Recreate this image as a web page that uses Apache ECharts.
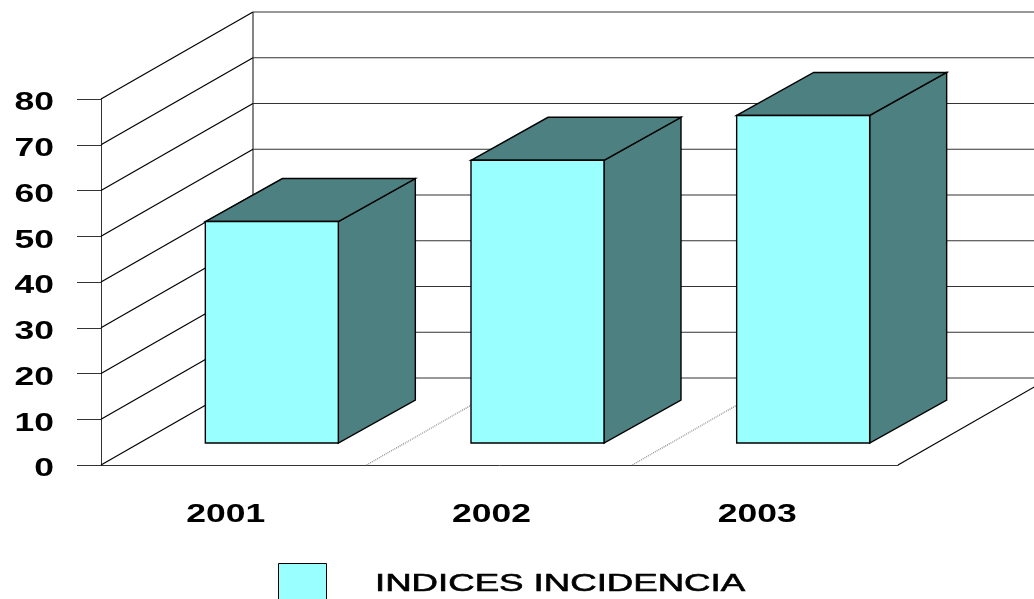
<!DOCTYPE html>
<html>
<head>
<meta charset="utf-8">
<style>
  html, body { margin: 0; padding: 0; background: #fff; overflow: hidden; }
  #chart { width: 1034px; height: 599px; }
</style>
<script src="https://cdn.jsdelivr.net/npm/echarts@6/dist/echarts.min.js"></script>
</head>
<body>
<div id="chart"></div>
<script>
const years = ['2001', '2002', '2003'];
const incidencia = [48.4, 61.8, 71.6];
const yTicks = [0, 10, 20, 30, 40, 50, 60, 70, 80];
const seriesName = 'INDICES INCIDENCIA';

const FRONT = '#99ffff';
const SIDE = '#4d8080';
const LINE = '#333333';
const FONT = 'bold 25px "Liberation Sans", Arial, sans-serif';

// profundidad de la caja y de las barras, en px
const WALL_DX = 152, WALL_DY = -87;
const BAR_DX = 77, BAR_DY = -43;
const BAR_SHIFT_X = 38, BAR_SHIFT_Y = -22;
const BAR_HALF = 66.5;

const chart = echarts.init(document.getElementById('chart'));

function seg(x1, y1, x2, y2, stroke, extra) {
  return {
    type: 'line',
    shape: { x1, y1, x2, y2 },
    style: Object.assign({ stroke, lineWidth: 1.2, fill: null }, extra || {}),
  };
}

function poly(points, fill) {
  return {
    type: 'polygon',
    shape: { points },
    style: { fill, stroke: '#000', lineWidth: 1.4, lineJoin: 'miter' },
  };
}

function stretched(text, x, y, align) {
  return {
    type: 'text', x, y, scaleX: 1.42,
    style: { text, font: FONT, fill: '#000', textAlign: align, textVerticalAlign: 'middle' },
  };
}

// paredes: lineas de cada valor + suelo
function renderWall(params, api) {
  const v = api.value(0);
  const band = api.size([1, 0])[0];
  const [cx, y] = api.coord([0, v]);
  const x0 = cx - band / 2;
  const xb = x0 + WALL_DX, yb = y + WALL_DY;
  const kids = [
    seg(x0, y, xb, yb, '#000'),
    seg(xb, yb, 1034, yb, LINE),
  ];
  if (v === 0) {
    kids.push(seg(xb, yb, xb, yb - (api.coord([0, 0])[1] - api.coord([0, 80])[1]), LINE));
    // borde derecho del suelo
    const xr = x0 + band * years.length;
    kids.push(seg(xr, y, xr + WALL_DX, yb, '#000'));
    // separaciones entre categorias
    for (let i = 1; i < years.length; i++) {
      const xs = x0 + band * i;
      kids.push(seg(xs, y, xs + WALL_DX, yb, '#888', { lineDash: [1, 1] }));
    }
  }
  return { type: 'group', children: kids };
}

function renderBar(params, api) {
  const [cx, yTop] = api.coord([api.value(0), api.value(1)]);
  const yBase = api.coord([api.value(0), 0])[1] + BAR_SHIFT_Y;
  const top = yTop + BAR_SHIFT_Y;
  const l = cx + BAR_SHIFT_X - BAR_HALF, r = cx + BAR_SHIFT_X + BAR_HALF;
  return {
    type: 'group',
    children: [
      poly([[r, top], [r + BAR_DX, top + BAR_DY], [r + BAR_DX, yBase + BAR_DY], [r, yBase]], SIDE),
      poly([[l, top], [l + BAR_DX, top + BAR_DY], [r + BAR_DX, top + BAR_DY], [r, top]], SIDE),
      poly([[l, top], [r, top], [r, yBase], [l, yBase]], FRONT),
    ],
  };
}

function renderYLabel(params, api) {
  const y = api.coord([0, api.value(0)])[1];
  return stretched(String(api.value(0)), 54, y + 4.5, 'right');
}

function renderXLabel(params, api) {
  const i = api.value(0);
  const [cx, y] = api.coord([i, 0]);
  return stretched(years[i], cx - 8, y + 50, 'center');
}

chart.setOption({
  animation: false,
  backgroundColor: '#fff',
  grid: { left: 101, top: 99, width: 797, height: 366, containLabel: false },
  legend: {
    data: [seriesName],
    left: 278, top: 563, padding: 0,
    itemWidth: 48, itemHeight: 40, icon: 'rect',
    formatter: () => '',
    itemStyle: { color: FRONT, borderColor: '#000', borderWidth: 1 },
  },
  xAxis: {
    type: 'category',
    data: years,
    axisLine: { onZero: false, lineStyle: { color: LINE, width: 1 } },
    axisTick: { alignWithLabel: true, length: 18, lineStyle: { color: LINE, width: 1 } },
    axisLabel: { show: false },
    splitLine: { show: false },
  },
  yAxis: {
    type: 'value',
    min: 0, max: 80, interval: 10,
    axisLine: { show: true, lineStyle: { color: LINE, width: 1 } },
    axisTick: { show: true, length: 24, lineStyle: { color: LINE, width: 1 } },
    axisLabel: { show: false },
    splitLine: { show: false },
  },
  graphic: [{
    type: 'text', x: 375, y: 584, scaleX: 1.525, silent: true,
    style: {
      text: seriesName,
      font: '24px "Liberation Sans", Arial, sans-serif',
      fill: '#000', stroke: '#000', lineWidth: 0.6, textAlign: 'left', textVerticalAlign: 'middle',
    },
  }],
  series: [
    { type: 'custom', name: 'paredes', data: yTicks.map(v => [v]), encode: { y: 0 },
      renderItem: renderWall, silent: true, z: 1 },
    { type: 'custom', name: seriesName, data: incidencia.map((v, i) => [i, v]), encode: { x: 0, y: 1 },
      renderItem: renderBar, itemStyle: { color: FRONT }, z: 2 },
    { type: 'custom', name: 'ylabels', data: yTicks.map(v => [v]), encode: { y: 0 },
      renderItem: renderYLabel, silent: true, z: 3 },
    { type: 'custom', name: 'xlabels', data: years.map((y, i) => [i]), encode: { x: 0 },
      renderItem: renderXLabel, silent: true, z: 3 },
  ],
});
window.addEventListener('resize', () => chart.resize());
</script>
</body>
</html>
